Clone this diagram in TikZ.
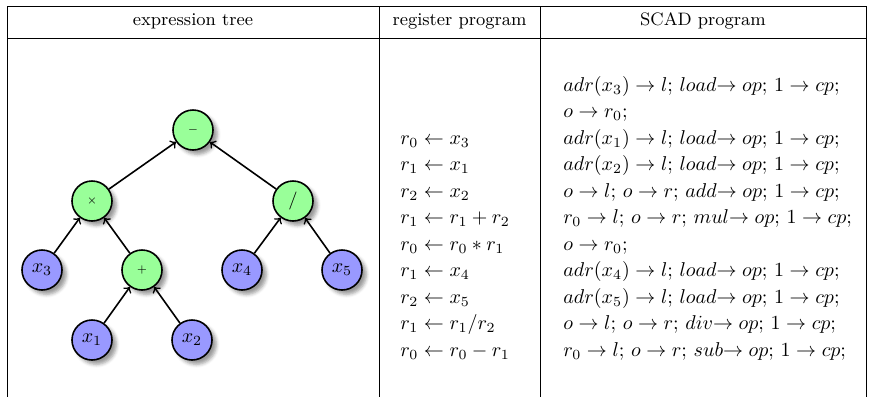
\documentclass[tikz,border=0pt]{standalone}
\usetikzlibrary{shadows.blur}
\begin{document}
\begin{tikzpicture}[x=0.5pt,y=-0.5pt,
  rulel/.style={line width=0.4pt},
  opnode/.style={circle,draw,thick,fill=green!40,minimum size=20pt,inner sep=0pt,blur shadow},
  varnode/.style={circle,draw,thick,fill=blue!40,minimum size=20pt,inner sep=0pt,blur shadow},
  treeedge/.style={->,thick},
  codeline/.style={anchor=base west,inner sep=0pt},
  headtext/.style={anchor=base,inner sep=0pt,font=\small}
]
\useasboundingbox (0,0) rectangle (871,397);

% table rules
\coordinate (tl) at (7,6);   \coordinate (tr) at (866,6);
\coordinate (hl) at (7,38);  \coordinate (hr) at (866,38);
\coordinate (bl) at (7,397); \coordinate (br) at (866,397);
\coordinate (m1t) at (379,6); \coordinate (m1b) at (379,397);
\coordinate (m2t) at (540,6); \coordinate (m2b) at (540,397);
\draw[rulel] (tl) -- (tr);
\draw[rulel] (hl) -- (hr);
\draw[rulel] (tl) -- (bl);
\draw[rulel] (tr) -- (br);
\draw[rulel] (m1t) -- (m1b);
\draw[rulel] (m2t) -- (m2b);

% headers
\node[headtext] (h1) at (193,25) {expression tree};
\node[headtext] (h2) at (459.5,25) {register program};
\node[headtext] (h3) at (703,25) {SCAD program};

% tree
\node[opnode] (sub) at (193,130) {\tiny $-$};
\node[opnode] (mul) at (92,201) {\tiny $\times$};
\node[opnode] (dvd) at (293,201) {\small $/$};
\node[varnode] (x3) at (42,270) {$x_3$};
\node[opnode] (add) at (142,270) {\tiny $+$};
\node[varnode] (x4) at (242,270) {$x_4$};
\node[varnode] (x5) at (342,270) {$x_5$};
\node[varnode] (x1) at (92,340) {$x_1$};
\node[varnode] (x2) at (192,340) {$x_2$};

\draw[treeedge] (mul) -- (sub);
\draw[treeedge] (dvd) -- (sub);
\draw[treeedge] (x3) -- (mul);
\draw[treeedge] (add) -- (mul);
\draw[treeedge] (x1) -- (add);
\draw[treeedge] (x2) -- (add);
\draw[treeedge] (x4) -- (dvd);
\draw[treeedge] (x5) -- (dvd);

% register program
\node[codeline] (r1) at (400,144.0) {$r_0 \leftarrow x_3$};
\node[codeline] (r2) at (400,170.5) {$r_1 \leftarrow x_1$};
\node[codeline] (r3) at (400,197.0) {$r_2 \leftarrow x_2$};
\node[codeline] (r4) at (400,223.5) {$r_1 \leftarrow r_1 + r_2$};
\node[codeline] (r5) at (400,250.0) {$r_0 \leftarrow r_0 * r_1$};
\node[codeline] (r6) at (400,276.5) {$r_1 \leftarrow x_4$};
\node[codeline] (r7) at (400,303.0) {$r_2 \leftarrow x_5$};
\node[codeline] (r8) at (400,329.5) {$r_1 \leftarrow r_1 / r_2$};
\node[codeline] (r9) at (400,356.0) {$r_0 \leftarrow r_0 - r_1$};

% SCAD program
\node[codeline] (s1) at (563,91.0) {$adr(x_3) \rightarrow l$; $load$$\rightarrow op$; $1 \rightarrow cp$;};
\node[codeline] (s2) at (563,117.5) {$o \rightarrow r_0$;};
\node[codeline] (s3) at (563,144.0) {$adr(x_1) \rightarrow l$; $load$$\rightarrow op$; $1 \rightarrow cp$;};
\node[codeline] (s4) at (563,170.5) {$adr(x_2) \rightarrow l$; $load$$\rightarrow op$; $1 \rightarrow cp$;};
\node[codeline] (s5) at (563,197.0) {$o \rightarrow l$; $o \rightarrow r$; $add$$\rightarrow op$; $1 \rightarrow cp$;};
\node[codeline] (s6) at (563,223.5) {$r_0 \rightarrow l$; $o \rightarrow r$; $mul$$\rightarrow op$; $1 \rightarrow cp$;};
\node[codeline] (s7) at (563,250.0) {$o \rightarrow r_0$;};
\node[codeline] (s8) at (563,276.5) {$adr(x_4) \rightarrow l$; $load$$\rightarrow op$; $1 \rightarrow cp$;};
\node[codeline] (s9) at (563,303.0) {$adr(x_5) \rightarrow l$; $load$$\rightarrow op$; $1 \rightarrow cp$;};
\node[codeline] (s10) at (563,329.5) {$o \rightarrow l$; $o \rightarrow r$; $div$$\rightarrow op$; $1 \rightarrow cp$;};
\node[codeline] (s11) at (563,356.0) {$r_0 \rightarrow l$; $o \rightarrow r$; $sub$$\rightarrow op$; $1 \rightarrow cp$;};
\end{tikzpicture}
\end{document}
